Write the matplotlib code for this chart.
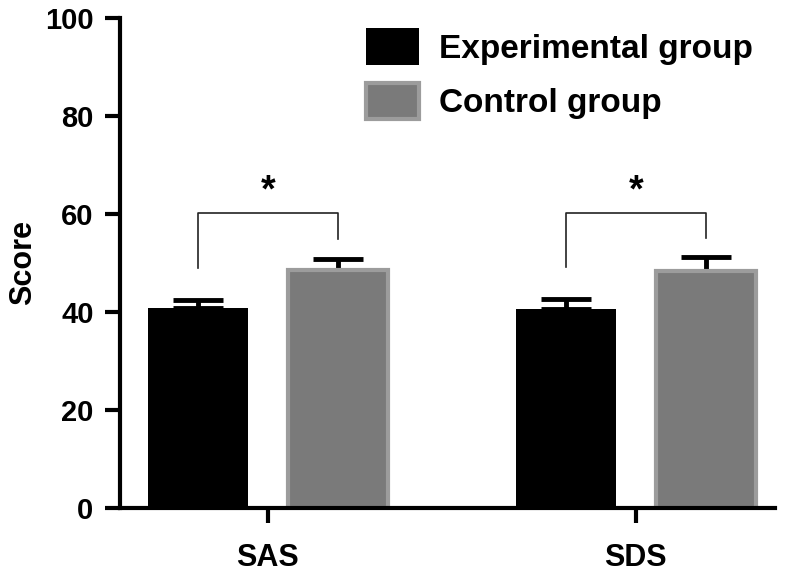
import matplotlib
import numpy as np

matplotlib.use('Agg')
from matplotlib import pyplot as plt

categories = ['SAS', 'SDS']
experimental = [40.8, 40.6]
experimental_err = [1.6, 2.0]
control = [48.6, 48.4]
control_err = [2.2, 2.8]
series_labels = ['Experimental group', 'Control group']
bracket_height = 60.2
bracket_star = '*'

plt.rcParams['font.family'] = ['Liberation Sans', 'DejaVu Sans']
plt.rcParams['font.weight'] = 'bold'

fig = plt.figure(figsize=(7.92, 5.78), dpi=100)
ax = fig.add_axes([0.1515, 0.121, 0.827, 0.848])

x = np.arange(len(categories))
offset = 0.19
width = 0.272

ax.bar(x - offset, experimental, width, color='black', label=series_labels[0], zorder=2)
ax.bar(x + offset, control, width, color='#7a7a7a', edgecolor='#9c9c9c', linewidth=3,
       label=series_labels[1], zorder=2)

# error bars sit under the bars so only the upper half shows
for xs, vals, errs in [(x - offset, experimental, experimental_err),
                       (x + offset, control, control_err)]:
    ax.errorbar(xs, vals, yerr=[np.zeros(len(xs)), errs], fmt='none', ecolor='black',
                elinewidth=3.5, capsize=18, capthick=3.5, zorder=1)

# significance brackets
for i in range(len(x)):
    left_end = experimental[i] + experimental_err[i] + 6.5
    right_end = control[i] + control_err[i] + 4.0
    x0, x1 = x[i] - offset, x[i] + offset
    ax.plot([x0, x0, x1, x1], [left_end, bracket_height, bracket_height, right_end],
            color='#222222', linewidth=1.2, zorder=3)
    ax.text(x[i], bracket_height + 4.3, bracket_star, ha='center', va='center',
            fontsize=27, fontweight='bold')

ax.set_xlim(-0.402, 1.378)
ax.set_ylim(0, 100)
ax.set_yticks(np.arange(0, 101, 20))
ax.set_xticks(x)
ax.set_xticklabels(categories)
ax.set_ylabel('Score', fontsize=22, fontweight='bold', labelpad=5)

for side in ['top', 'right']:
    ax.spines[side].set_visible(False)
for side in ['left', 'bottom']:
    ax.spines[side].set_linewidth(3)
ax.tick_params(axis='y', width=3, length=11, labelsize=21, pad=8)
ax.tick_params(axis='x', width=3, length=11, labelsize=22, pad=14)

ax.legend(loc='upper left', bbox_to_anchor=(0.33, 1.04), frameon=False, fontsize=24,
          handlelength=1.6, handleheight=1.3, handletextpad=0.6, labelspacing=0.55)

fig.savefig('out.png', dpi=100)
